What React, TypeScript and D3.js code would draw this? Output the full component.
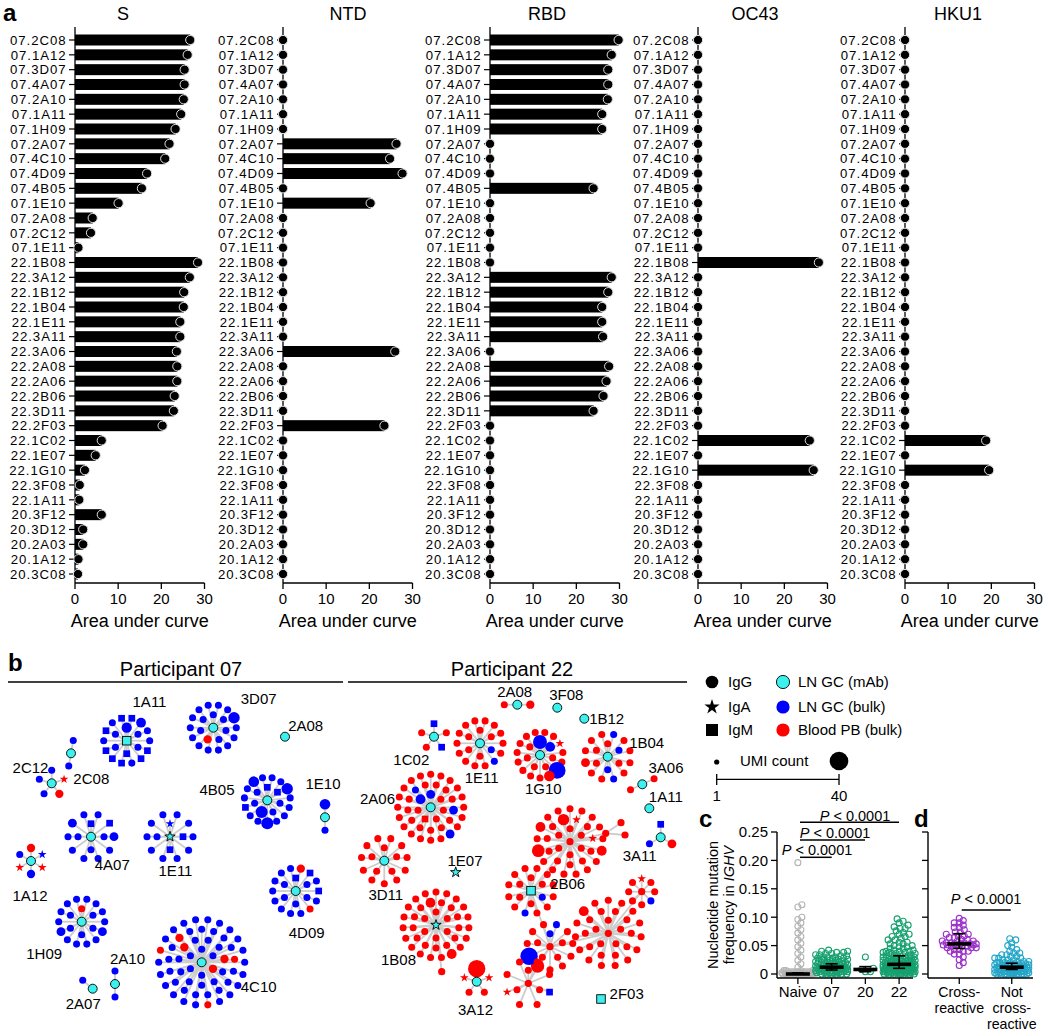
import React from "react";
import * as d3 from "d3";

const FONT = "'Liberation Sans', Arial, Helvetica, sans-serif";

// ---------------- Panel a data ----------------
const antibodies = [
  "07.2C08", "07.1A12", "07.3D07", "07.4A07", "07.2A10", "07.1A11", "07.1H09", "07.2A07", "07.4C10",
  "07.4D09", "07.4B05", "07.1E10", "07.2A08", "07.2C12", "07.1E11", "22.1B08", "22.3A12", "22.1B12",
  "22.1B04", "22.1E11", "22.3A11", "22.3A06", "22.2A08", "22.2A06", "22.2B06", "22.3D11", "22.2F03",
  "22.1C02", "22.1E07", "22.1G10", "22.3F08", "22.1A11", "20.3F12", "20.3D12", "20.2A03", "20.1A12", "20.3C08",
];
const sAUC = [
  26.7, 26.1, 25.4, 25.4, 25.2, 24.6, 23.3, 21.9, 20.9, 16.7, 15.5, 10.1, 4.1, 3.7, 0.8,
  28.5, 26.6, 25.3, 25.2, 24.4, 24.4, 23.6, 23.7, 23.7, 23.1, 22.9, 20.3, 6.2, 4.8, 2.3,
  1.1, 1.0, 6.2, 1.9, 1.9, 0.8, 0.7,
];
const ntdAUC = [
  0, 0, 0, 0, 0, 0, 0, 26.3, 24.8, 27.7, 0, 20.3, 0, 0, 0,
  0, 0, 0, 0, 0, 0, 26.0, 0, 0, 0, 0, 23.5, 0, 0, 0,
  0, 0, 0, 0, 0, 0, 0,
];
const rbdAUC = [
  29.8, 28.2, 27.4, 27.4, 27.3, 26.0, 26.0, 0, 0, 0, 24.0, 0, 0, 0, 0,
  0, 28.2, 27.4, 26.0, 26.0, 26.2, 0, 27.6, 27.0, 26.3, 24.0, 0, 0, 0, 0,
  0, 0, 0, 0, 0, 0, 0,
];
const oc43AUC = [
  0, 0, 0, 0, 0, 0, 0, 0, 0, 0, 0, 0, 0, 0, 0,
  28.0, 0, 0, 0, 0, 0, 0, 0, 0, 0, 0, 0, 25.9, 0, 26.8,
  0, 0, 0, 0, 0, 0, 0,
];
const hku1AUC = [
  0, 0, 0, 0, 0, 0, 0, 0, 0, 0, 0, 0, 0, 0, 0,
  0, 0, 0, 0, 0, 0, 0, 0, 0, 0, 0, 0, 18.8, 0, 19.5,
  0, 0, 0, 0, 0, 0, 0,
];
const panelTitles = ["S", "NTD", "RBD", "OC43", "HKU1"];
const aucSeries = [sAUC, ntdAUC, rbdAUC, oc43AUC, hku1AUC];
const aucTicks = [0, 10, 20, 30];

// layout of panel a
const panelAxisX = [75, 283, 490, 698, 905];
const panelTitleX = [123, 348, 547, 755, 958];

// ---------------- Panel b data ----------------
// satellite tokens: b = LN GC bulk, r = blood PB bulk; suffix m = IgM, a = IgA; number = UMI count
type Cluster = { id: string; label: string; hub: string; sats: string };
const p07Clusters: Cluster[] = [
  { id: "1A11", label: "1A11", hub: "cm", sats: "b9 b b bm b b bm b8 b b bm bm b bm bm bm b bm b bm" },
  { id: "3D07", label: "3D07", hub: "c", sats: "b b b b r5 b b b b b12 b b b b b b b b b b b" },
  { id: "2A08", label: "2A08", hub: "c", sats: "" },
  { id: "2C08", label: "2C08", hub: "c", sats: "b b" },
  { id: "2C12", label: "2C12", hub: "c", sats: "b ra r5 b b" },
  { id: "4B05", label: "4B05", hub: "c", sats: "bm bm b b b14 b b b b b12 b b b b b14 b b bm b b b10 b" },
  { id: "1E10", label: "1E10", hub: "c", sats: "b10 b" },
  { id: "4A07", label: "4A07", hub: "c", sats: "bm b b b b bm b6 b b b b b b6 b" },
  { id: "1E11", label: "1E11", hub: "ca", sats: "ba bm bm b b b b b b b b b b b" },
  { id: "1A12", label: "1A12", hub: "c", sats: "r5 ba ra b5 ra b" },
  { id: "4D09", label: "4D09", hub: "c", sats: "bm b b b b b r5 bm b bm b r b b b b b b b b" },
  { id: "1H09", label: "1H09", hub: "c", sats: "r b b b b b b b b b b6 b b b b b6 b b b b" },
  {
    id: "4C10", label: "4C10", hub: "c",
    sats: "b b r5 b b b b b r5 b b b b b b r5 b b b b b r b b b b b b b b b b r5 b b b b b b b b b b b r b b b b b b r b b b b",
  },
  { id: "2A10", label: "2A10", hub: "c", sats: "b b" },
  { id: "2A07", label: "2A07", hub: "c", sats: "b" },
];
const p22Clusters: Cluster[] = [
  { id: "2A08", label: "2A08", hub: "c", sats: "r5 r" },
  { id: "3F08", label: "3F08", hub: "c", sats: "" },
  { id: "1B12", label: "1B12", hub: "c", sats: "" },
  { id: "1C02", label: "1C02", hub: "c", sats: "bm r bm r r" },
  { id: "1E11", label: "1E11", hub: "c", sats: "r r b r r r r r r r r b r r r r r r r r" },
  { id: "1G10", label: "1G10", hub: "c", sats: "b20 b8 r r r r r r r ra r r b32 r10 r r r r r r r r" },
  { id: "1B04", label: "1B04", hub: "c", sats: "r b r b r r b r r r r b r r r6 r r r" },
  { id: "3A06", label: "3A06", hub: "c", sats: "r r" },
  { id: "1A11", label: "1A11", hub: "c", sats: "" },
  { id: "3A11", label: "3A11", hub: "c", sats: "bm r6 b" },
  {
    id: "2A06", label: "2A06", hub: "c",
    sats: "b6 r r r rm r b8 r r r b6 r r r r r r r b r r r r r r r r r b6 r r r r r r r r r r r",
  },
  { id: "3D11", label: "3D11", hub: "c", sats: "r r r r r r r r r r r r r r r r" },
  { id: "1E07", label: "1E07", hub: "ca", sats: "" },
  {
    id: "1B08", label: "1B08", hub: "ca",
    sats: "r r r r r r r r r r r r r r r r r r r8 r r r r r r r r r8 r r r r r r r r r r",
  },
  { id: "1B08x", label: "", hub: "r", sats: "" },
  { id: "3A12", label: "3A12", hub: "c", sats: "r34 ra r r ra" },
  { id: "2F03", label: "2F03", hub: "cm", sats: "" },
  { id: "A", label: "", hub: "r", sats: "r r r r r r ra r ra r r r r r r r r12 r r r r r r8 r r r r r r r16 r r8 r r" },
  { id: "A2", label: "", hub: "r", sats: "" },
  { id: "A3", label: "", hub: "r", sats: "" },
  { id: "A4", label: "", hub: "r", sats: "" },
  { id: "B", label: "2B06", hub: "cm", sats: "r r b r r r r r r r r r b r r r r r" },
  { id: "C", label: "", hub: "r", sats: "b r r r r b r r r r r r18 b34 r r r" },
  { id: "D", label: "", hub: "r", sats: "r r r r r r r r r r r r r r r r r r r r r r r r r r r r r8 r" },
  { id: "E", label: "", hub: "r", sats: "ra r r b r r r r" },
  { id: "F", label: "", hub: "r", sats: "r r r r r bm r r ra r r" },
];
const p22Links: [string, string][] = [
  ["A", "B"], ["B", "C"], ["C", "D"], ["D", "E"], ["C", "F"], ["A", "A2"], ["A2", "A3"], ["A2", "A4"], ["1B08", "1B08x"],
];

// cluster placement: [hubX, hubY, labelX, labelY, ringRotation]
const p07Layout: Record<string, number[]> = {
  "1A11": [126.7, 740.7, 149.5, 701.7, 0],
  "3D07": [213.3, 727.7, 258.7, 699, 0],
  "2A08": [285, 736.7, 305.7, 725.3, 0],
  "2C08": [71, 753.3, 91.3, 779, 10],
  "2C12": [51.7, 783.3, 30.5, 768, 0],
  "4B05": [267.3, 800.3, 217, 789.3, 0],
  "1E10": [325, 817.3, 323, 784, 0],
  "4A07": [91, 836.7, 112.3, 865, 0],
  "1E11": [170, 836.7, 175.5, 871, 0],
  "1A12": [31, 861, 30, 896, 0],
  "4D09": [295.7, 891, 306.7, 933, 0],
  "1H09": [81.7, 921.7, 44.2, 954, 0],
  "4C10": [201.7, 962.3, 258.7, 986.7, 0],
  "2A10": [115, 984, 127.5, 959, 0],
  "2A07": [92.7, 988.7, 83.3, 1004, -50],
};
const p22Layout: Record<string, number[]> = {
  "2A08": [517.3, 704.7, 514.7, 691.7, 90],
  "3F08": [557.3, 707.7, 566.3, 694.3, 0],
  "1B12": [584.3, 718.7, 606.7, 718.7, 0],
  "1C02": [434, 736.7, 411.3, 760, 0],
  "1E11": [480, 743.3, 481.7, 777.3, 0],
  "1G10": [540, 755, 543.3, 788.3, 0],
  "1B04": [607.7, 756.7, 646.7, 742.7, 0],
  "3A06": [642.3, 784.3, 666, 767.7, 65],
  "1A11": [649.3, 808.3, 665.8, 796.7, 0],
  "3A11": [660.7, 837.3, 639.7, 856, 0],
  "2A06": [430.7, 807.3, 377.5, 798.3, 0],
  "3D11": [384.3, 860.7, 385.8, 895, 0],
  "1E07": [455.7, 872.3, 465, 860.7, 0],
  "1B08": [436, 925, 398.5, 959.3, 0],
  "1B08x": [441.7, 971.7, 0, 0, 0],
  "3A12": [476.7, 981.7, 475.5, 1010, 0],
  "2F03": [601, 999, 626.7, 994, 0],
  "A": [570, 841.7, 0, 0, 0],
  "A2": [605.7, 833.3, 0, 0, 0],
  "A3": [621, 822.7, 0, 0, 0],
  "A4": [625, 835, 0, 0, 0],
  "B": [531, 890.7, 567.7, 883.3, 0],
  "C": [550, 946.7, 0, 0, 0],
  "D": [608.3, 933.3, 0, 0, 0],
  "E": [641.7, 891.7, 0, 0, 0],
  "F": [528.3, 983.3, 0, 0, 0],
};

// ---------------- Panel c / d data ([value, count]) ----------------
const mutGroups = ["Naive", "07", "20", "22"];
const naiveMut: [number, number][] = [
  [0, 28], [0.002, 8], [0.004, 8], [0.006, 4], [0.012, 1], [0.018, 1], [0.024, 1], [0.03, 1],
  [0.036, 1], [0.042, 1], [0.048, 1], [0.054, 1], [0.06, 1], [0.066, 1], [0.072, 1], [0.078, 1],
  [0.084, 1], [0.09, 1], [0.096, 1], [0.1, 1], [0.118, 1], [0.122, 1], [0.196, 1],
];
const p07Mut: [number, number][] = [
  [0, 6], [0.002, 5], [0.004, 6], [0.006, 6], [0.008, 6], [0.01, 7], [0.012, 7], [0.014, 6], [0.016, 5],
  [0.018, 5], [0.02, 4], [0.022, 4], [0.024, 3], [0.026, 3], [0.028, 3], [0.03, 3], [0.032, 2], [0.034, 2],
  [0.036, 2], [0.038, 2], [0.04, 2], [0.042, 1],
];
const p20Mut: [number, number][] = [[0.004, 2], [0.008, 1], [0.01, 1], [0.03, 1]];
const p22Mut: [number, number][] = [
  [0, 8], [0.002, 6], [0.004, 8], [0.006, 8], [0.008, 8], [0.01, 8], [0.012, 8], [0.014, 8], [0.016, 7],
  [0.018, 6], [0.02, 6], [0.022, 5], [0.024, 5], [0.026, 4], [0.028, 4], [0.03, 4], [0.032, 3], [0.034, 3],
  [0.036, 3], [0.038, 3], [0.04, 3], [0.042, 2], [0.045, 2], [0.048, 2], [0.05, 2], [0.053, 2], [0.056, 2],
  [0.06, 2], [0.063, 1], [0.066, 2], [0.07, 2], [0.073, 1], [0.076, 1], [0.08, 2], [0.083, 1], [0.086, 1],
  [0.09, 1], [0.093, 1], [0.097, 1],
];
const mutMedian = [0, 0.012, 0.008, 0.017];
const mutLow = [0, 0.007, 0.004, 0.01];
const mutHigh = [0.002, 0.018, 0.013, 0.032];
const mutTicks = [0, 0.05, 0.1, 0.15, 0.2, 0.25];
const mutTickLabels = ["0", "0.05", "0.10", "0.15", "0.20", "0.25"];

const crossGroups = ["Cross-reactive", "Not cross-reactive"];
const crossMut: [number, number][] = [
  [0.015, 1], [0.02, 1], [0.025, 1], [0.03, 1], [0.035, 2], [0.04, 3], [0.043, 2], [0.046, 3], [0.049, 3],
  [0.051, 4], [0.053, 4], [0.055, 3], [0.058, 3], [0.061, 2], [0.064, 2], [0.067, 2], [0.07, 2], [0.074, 2],
  [0.078, 1], [0.082, 2], [0.086, 1], [0.09, 2], [0.094, 1], [0.098, 1],
];
const notCrossMut: [number, number][] = [
  [0, 12], [0.002, 6], [0.004, 6], [0.006, 6], [0.008, 6], [0.01, 6], [0.012, 6], [0.014, 5], [0.016, 5],
  [0.018, 4], [0.02, 4], [0.022, 3], [0.025, 3], [0.028, 3], [0.031, 2], [0.034, 2], [0.037, 2], [0.04, 1],
  [0.043, 1], [0.047, 1], [0.05, 1], [0.055, 1], [0.06, 1], [0.062, 1],
];
const crossMedian = [0.053, 0.012];
const crossLow = [0.045, 0.008];
const crossHigh = [0.071, 0.019];

// ---------------- colours ----------------
const BLUE = "#0000ff";
const RED = "#ff0000";
const CYAN = "#3cf0ee";
const EDGE = "#cccccc";
const mutColors = ["#b4b4b4", "#16a070", "#16a070", "#16a070"];
const crossColors = ["#9b30c8", "#23a6c8"];

// ---------------- helpers ----------------
function expand(pairs: [number, number][]) {
  const out: number[] = [];
  pairs.forEach(([v, c]) => { for (let i = 0; i < c; i++) out.push(v); });
  return out;
}

function swarm(values: number[], y: (v: number) => number, cx: number, r: number, maxHalf: number) {
  const sorted = [...values].sort((a, b) => a - b);
  const placed: { x: number; y: number }[] = [];
  const dmin = 2 * r * 0.7;
  for (const v of sorted) {
    const py = y(v);
    let best = 0;
    let bestScore = -Infinity;
    for (let k = 0; k <= maxHalf * 2; k++) {
      const off = k % 2 === 1 ? (k + 1) / 2 : -k / 2;
      let minD = Infinity;
      for (const p of placed) {
        if (Math.abs(p.y - py) < dmin) {
          const d = Math.hypot(p.x - (cx + off), p.y - py);
          if (d < minD) minD = d;
        }
      }
      if (minD >= dmin) { best = off; bestScore = Infinity; break; }
      if (minD > bestScore) { bestScore = minD; best = off; }
    }
    placed.push({ x: cx + best, y: py });
  }
  return placed;
}

type Sat = { color: string; iso: string; umi: number };
function parseSats(s: string): Sat[] {
  return s.split(/\s+/).filter(Boolean).map((t) => {
    const m = t.match(/^([br])([ma]?)(\d*)$/);
    if (!m) return { color: BLUE, iso: "G", umi: 3 };
    return {
      color: m[1] === "b" ? BLUE : RED,
      iso: m[2] === "m" ? "M" : m[2] === "a" ? "A" : "G",
      umi: m[3] ? +m[3] : 3,
    };
  });
}

function ringPositions(n: number, rot: number): [number, number][] {
  if (n === 0) return [];
  const r0 = 13, gap = 10, spacing = 9.6;
  const rings: { r: number; cap: number }[] = [];
  let capTotal = 0;
  let k = 0;
  while (capTotal < n) {
    const r = r0 + gap * k;
    const cap = Math.max(1, Math.floor((2 * Math.PI * r) / spacing));
    rings.push({ r, cap });
    capTotal += cap;
    k++;
  }
  let counts: number[];
  if (rings.length === 1) counts = [n];
  else {
    counts = rings.map((rg) => Math.floor((n * rg.cap) / capTotal));
    let rest = n - d3.sum(counts);
    let i = rings.length - 1;
    while (rest > 0) { counts[i]++; rest--; i = (i - 1 + rings.length) % rings.length; }
  }
  const out: [number, number][] = [];
  rings.forEach((rg, ri) => {
    const c = counts[ri];
    for (let i = 0; i < c; i++) {
      const a = ((-90 + rot) * Math.PI) / 180 + ((i + (ri % 2) * 0.5) * 2 * Math.PI) / c;
      out.push([rg.r * Math.cos(a), rg.r * Math.sin(a)]);
    }
  });
  return out;
}

const umiRadius = d3.scaleSqrt().domain([1, 40]).range([2.6, 9.3]);

function starPath(outer: number) {
  return d3.symbol(d3.symbolStar, (outer * outer) / 0.8908)() as string;
}

function NodeShape(props: { x: number; y: number; r: number; iso: string; fill: string; stroke?: string; sw?: number }) {
  const { x, y, r, iso, fill, stroke = "none", sw = 0 } = props;
  if (iso === "M") {
    return <rect x={x - r * 0.95} y={y - r * 0.95} width={r * 1.9} height={r * 1.9} fill={fill} stroke={stroke} strokeWidth={sw} />;
  }
  if (iso === "A") {
    return <path d={starPath(r * 1.3)} transform={`translate(${x},${y})`} fill={fill} stroke={stroke} strokeWidth={sw} />;
  }
  return <circle cx={x} cy={y} r={r} fill={fill} stroke={stroke} strokeWidth={sw} />;
}

// ---------------- components ----------------
function Lollipop({ idx }: { idx: number }) {
  const x0 = panelAxisX[idx];
  const values = aucSeries[idx];
  const x = d3.scaleLinear().domain([0, 30]).range([x0, x0 + 129.5]);
  const y = d3.scalePoint<string>().domain(antibodies).range([40, 574]);
  const axisY = 583;
  return (
    <g>
      <text x={panelTitleX[idx]} y={19.5} fontSize={18} textAnchor="middle">{panelTitles[idx]}</text>
      {antibodies.map((ab, i) =>
        values[i] > 0 ? (
          <rect key={"b" + ab} x={x(0)} y={(y(ab) as number) - 5.5} width={x(values[i]) - x(0)} height={11} fill="#000" />
        ) : null
      )}
      <line x1={x0} x2={x0} y1={27} y2={axisY} stroke="#000" strokeWidth={1.3} />
      {antibodies.map((ab) => (
        <g key={"t" + ab}>
          <line x1={x0 - 6} x2={x0} y1={y(ab)} y2={y(ab)} stroke="#000" strokeWidth={1.2} />
          <text x={x0 - 8.5} y={(y(ab) as number) + 4.8} fontSize={13.2} letterSpacing={0.95} textAnchor="end">{ab}</text>
        </g>
      ))}
      {antibodies.map((ab, i) => (
        <circle key={"c" + ab} cx={x(values[i])} cy={y(ab)} r={4.6} fill="#000" stroke="#e0e0e0" strokeWidth={1} />
      ))}
      <line x1={x0} x2={x(30)} y1={axisY} y2={axisY} stroke="#000" strokeWidth={1.3} />
      {aucTicks.map((t) => (
        <g key={"x" + t}>
          <line x1={x(t)} x2={x(t)} y1={axisY} y2={axisY + 6} stroke="#000" strokeWidth={1.3} />
          <text x={x(t)} y={603.5} fontSize={15} textAnchor="middle">{t}</text>
        </g>
      ))}
      <text x={x(15)} y={626.5} fontSize={18} textAnchor="middle">Area under curve</text>
    </g>
  );
}

function Network({ clusters, layout, links }: { clusters: Cluster[]; layout: Record<string, number[]>; links: [string, string][] }) {
  const hubs: Record<string, { x: number; y: number }> = {};
  const sats: (Sat & { x: number; y: number })[] = [];
  const edges: number[][] = [];
  clusters.forEach((c) => {
    const [hx, hy, , , rot] = layout[c.id];
    hubs[c.id] = { x: hx, y: hy };
    const toks = parseSats(c.sats);
    const pos = ringPositions(toks.length, rot);
    toks.forEach((t, i) => {
      const sx = hx + pos[i][0];
      const sy = hy + pos[i][1];
      sats.push({ ...t, x: sx, y: sy });
      edges.push([hx, hy, sx, sy]);
    });
  });
  links.forEach(([a, b]) => edges.push([hubs[a].x, hubs[a].y, hubs[b].x, hubs[b].y]));
  return (
    <g>
      {edges.map((e, i) => (
        <line key={"e" + i} x1={e[0]} y1={e[1]} x2={e[2]} y2={e[3]} stroke={EDGE} strokeWidth={1.8} />
      ))}
      {sats.map((s, i) => (
        <NodeShape key={"s" + i} x={s.x} y={s.y} r={umiRadius(s.umi)} iso={s.iso} fill={s.color} />
      ))}
      {clusters.map((c) => {
        const [hx, hy] = layout[c.id];
        if (c.hub === "r") return <circle key={"h" + c.id} cx={hx} cy={hy} r={3.6} fill={RED} />;
        const iso = c.hub === "cm" ? "M" : c.hub === "ca" ? "A" : "G";
        const r = iso === "A" ? 4.2 : 4.5;
        return <NodeShape key={"h" + c.id} x={hx} y={hy} r={r} iso={iso} fill={CYAN} stroke="#000" sw={0.9} />;
      })}
      {clusters.filter((c) => c.label).map((c) => {
        const [, , lx, ly] = layout[c.id];
        return (
          <text key={"l" + c.id} x={lx} y={ly + 5.3} fontSize={15} textAnchor="middle">{c.label}</text>
        );
      })}
    </g>
  );
}

function Legend() {
  const rows = [682, 707, 730];
  const isoNames = ["IgG", "IgA", "IgM"];
  const colNames = ["LN GC (mAb)", "LN GC (bulk)", "Blood PB (bulk)"];
  const colFills = [CYAN, BLUE, RED];
  const umi = d3.scaleLinear().domain([1, 40]).range([716.7, 839]);
  return (
    <g fontSize={15}>
      <circle cx={712} cy={rows[0]} r={6.3} fill="#000" />
      <path d={starPath(8)} transform={`translate(712,${rows[1]})`} fill="#000" />
      <rect x={706} y={rows[2] - 6} width={12} height={12} fill="#000" />
      {isoNames.map((n, i) => (
        <text key={n} x={728} y={rows[i] + 5.3}>{n}</text>
      ))}
      {colFills.map((f, i) => (
        <circle key={"cf" + i} cx={783} cy={rows[i]} r={6.6} fill={f} stroke={i === 0 ? "#000" : "none"} strokeWidth={0.9} />
      ))}
      {colNames.map((n, i) => (
        <text key={n} x={798} y={rows[i] + 5.3}>{n}</text>
      ))}
      <circle cx={umi(1)} cy={762} r={umiRadius(1)} fill="#000" />
      <circle cx={umi(40)} cy={761} r={umiRadius(40)} fill="#000" />
      <text x={740} y={765.5}>UMI count</text>
      <line x1={umi(1)} x2={umi(40)} y1={779.3} y2={779.3} stroke="#000" strokeWidth={1.3} />
      <line x1={umi(1)} x2={umi(1)} y1={774} y2={785} stroke="#000" strokeWidth={1.3} />
      <line x1={umi(40)} x2={umi(40)} y1={774} y2={785} stroke="#000" strokeWidth={1.3} />
      <text x={umi(1)} y={800.5} textAnchor="middle">1</text>
      <text x={umi(40)} y={800.5} textAnchor="middle">40</text>
    </g>
  );
}

function PLabel({ x, y }: { x: number; y: number }) {
  return (
    <text x={x} y={y} fontSize={14.5} textAnchor="middle">
      <tspan fontStyle="italic">P</tspan> &lt; 0.0001
    </text>
  );
}

function StatMarks({ cx, med, lo, hi, y }: { cx: number; med: number; lo: number; hi: number; y: d3.ScaleLinear<number, number> }) {
  return (
    <g stroke="#000">
      <line x1={cx} x2={cx} y1={y(lo)} y2={y(hi)} strokeWidth={1.6} />
      <line x1={cx - 6} x2={cx + 6} y1={y(lo)} y2={y(lo)} strokeWidth={1.6} />
      <line x1={cx - 6} x2={cx + 6} y1={y(hi)} y2={y(hi)} strokeWidth={1.6} />
      <line x1={cx - 12} x2={cx + 12} y1={y(med)} y2={y(med)} strokeWidth={3.6} />
    </g>
  );
}

function PanelCD() {
  const y = d3.scaleLinear().domain([0, 0.25]).range([974, 832]);
  const xc = d3.scaleBand<string>().domain(mutGroups).range([781, 916]);
  const xd = d3.scaleBand<string>().domain(crossGroups).range([933, 1038]);
  const mutData = [naiveMut, p07Mut, p20Mut, p22Mut];
  const crossData = [crossMut, notCrossMut];
  const axisBottom = 978;
  return (
    <g>
      {/* panel c */}
      <text x={699} y={827} fontSize={24} fontWeight="bold">c</text>
      <text fontSize={14.5} textAnchor="middle" transform="translate(717.5,905) rotate(-90)">Nucleotide mutation</text>
      <text fontSize={14.5} textAnchor="middle" transform="translate(734,905) rotate(-90)">
        frequency in <tspan fontStyle="italic">IGHV</tspan>
      </text>
      {mutGroups.map((g, gi) => {
        const cx = (xc(g) as number) + xc.bandwidth() / 2;
        const pts = swarm(expand(mutData[gi]), y, cx, 3, 16);
        return (
          <g key={g}>
            {pts.map((p, i) => (
              <circle key={i} cx={p.x} cy={p.y} r={3} fill="none" stroke={mutColors[gi]} strokeWidth={1.1} />
            ))}
            <StatMarks cx={cx} med={mutMedian[gi]} lo={mutLow[gi]} hi={mutHigh[gi]} y={y} />
            <line x1={cx} x2={cx} y1={axisBottom} y2={axisBottom + 6} stroke="#000" strokeWidth={1.3} />
            <text x={cx} y={997} fontSize={15} textAnchor="middle">{g}</text>
          </g>
        );
      })}
      <line x1={777} x2={777} y1={832} y2={axisBottom} stroke="#000" strokeWidth={1.4} />
      <line x1={777} x2={913} y1={axisBottom} y2={axisBottom} stroke="#000" strokeWidth={1.4} />
      {mutTicks.map((t, i) => (
        <g key={"yt" + t}>
          <line x1={771} x2={777} y1={y(t)} y2={y(t)} stroke="#000" strokeWidth={1.3} />
          <text x={768} y={y(t) + 5.3} fontSize={15} textAnchor="end">{mutTickLabels[i]}</text>
        </g>
      ))}
      <line x1={800} x2={899} y1={822.3} y2={822.3} stroke="#000" strokeWidth={1.5} />
      <PLabel x={855} y={821} />
      <line x1={800} x2={865} y1={840} y2={840} stroke="#000" strokeWidth={1.5} />
      <PLabel x={835} y={837.5} />
      <line x1={800} x2={831.7} y1={857.3} y2={857.3} stroke="#000" strokeWidth={1.5} />
      <PLabel x={817} y={854.8} />

      {/* panel d */}
      <text x={914} y={827} fontSize={24} fontWeight="bold">d</text>
      {crossGroups.map((g, gi) => {
        const cx = (xd(g) as number) + xd.bandwidth() / 2;
        const pts = swarm(expand(crossData[gi]), y, cx, 3, 17);
        return (
          <g key={g}>
            {pts.map((p, i) => (
              <circle key={i} cx={p.x} cy={p.y} r={3} fill="none" stroke={crossColors[gi]} strokeWidth={1.1} />
            ))}
            <StatMarks cx={cx} med={crossMedian[gi]} lo={crossLow[gi]} hi={crossHigh[gi]} y={y} />
            <line x1={cx} x2={cx} y1={axisBottom} y2={axisBottom + 6} stroke="#000" strokeWidth={1.3} />
          </g>
        );
      })}
      {(() => {
        const c0 = (xd(crossGroups[0]) as number) + xd.bandwidth() / 2;
        const c1 = (xd(crossGroups[1]) as number) + xd.bandwidth() / 2;
        return (
          <g fontSize={14.2} textAnchor="middle">
            <text x={c0} y={996.5}>Cross-</text>
            <text x={c0} y={1012.5}>reactive</text>
            <text x={c1} y={996.5}>Not</text>
            <text x={c1} y={1012.5}>cross-</text>
            <text x={c1} y={1028.5}>reactive</text>
          </g>
        );
      })()}
      <line x1={928} x2={928} y1={832} y2={axisBottom} stroke="#000" strokeWidth={1.4} />
      <line x1={928} x2={1033} y1={axisBottom} y2={axisBottom} stroke="#000" strokeWidth={1.4} />
      {mutTicks.map((t) => (
        <line key={"dt" + t} x1={922} x2={928} y1={y(t)} y2={y(t)} stroke="#000" strokeWidth={1.3} />
      ))}
      <line x1={961.7} x2={1010.7} y1={910} y2={910} stroke="#000" strokeWidth={1.5} />
      <PLabel x={986} y={903.5} />
    </g>
  );
}

export default function App() {
  return (
    <svg
      width={1050}
      height={1036}
      style={{ position: "absolute", left: 0, top: 0, display: "block" }}
      fontFamily={FONT}
    >
      <rect width={1050} height={1036} fill="#fff" />
      <text x={3} y={21} fontSize={24} fontWeight="bold">a</text>
      {panelTitles.map((t, i) => (
        <Lollipop key={t} idx={i} />
      ))}

      {/* panel b */}
      <text x={8} y={671} fontSize={24} fontWeight="bold">b</text>
      <text x={181} y={675.5} fontSize={20} textAnchor="middle">Participant 07</text>
      <line x1={8} x2={343} y1={682} y2={682} stroke="#000" strokeWidth={1.4} />
      <text x={512} y={675.5} fontSize={20} textAnchor="middle">Participant 22</text>
      <line x1={348} x2={687} y1={682} y2={682} stroke="#000" strokeWidth={1.4} />
      <Network clusters={p07Clusters} layout={p07Layout} links={[]} />
      <Network clusters={p22Clusters} layout={p22Layout} links={p22Links} />
      <Legend />
      <PanelCD />
    </svg>
  );
}
